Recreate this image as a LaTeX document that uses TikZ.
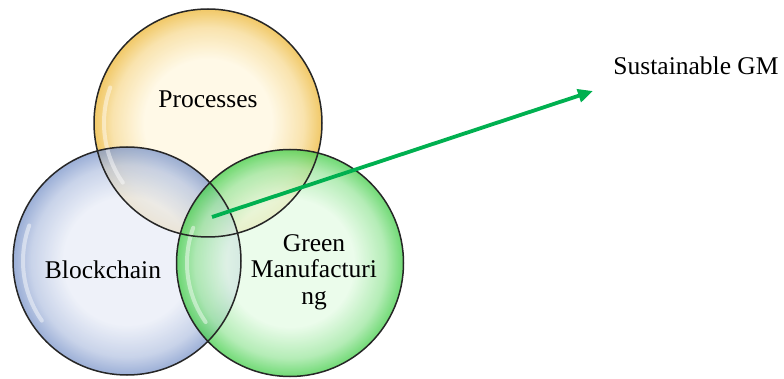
\documentclass[tikz,border=0pt]{standalone}
\usepackage{fontspec}
\setmainfont{Liberation Serif}
\usetikzlibrary{arrows.meta}
\definecolor{yin}{HTML}{FFF7E0}
\definecolor{yout}{HTML}{EDB93C}
\definecolor{bin}{HTML}{E9EDF7}
\definecolor{bout}{HTML}{7F98CB}
\definecolor{gin}{HTML}{E6FBE6}
\definecolor{gout}{HTML}{48CF4E}
\definecolor{arrowgreen}{HTML}{00B050}
\pgfdeclareradialshading{ballY}{\pgfpoint{0bp}{0bp}}{color(0bp)=(yin); color(14bp)=(yin); color(21bp)=(yout!45!yin); color(25bp)=(yout); color(50bp)=(yout)}
\pgfdeclareradialshading{ballB}{\pgfpoint{0bp}{0bp}}{color(0bp)=(bin); color(14bp)=(bin); color(21bp)=(bout!45!bin); color(25bp)=(bout); color(50bp)=(bout)}
\pgfdeclareradialshading{ballG}{\pgfpoint{0bp}{0bp}}{color(0bp)=(gin); color(14bp)=(gin); color(21bp)=(gout!45!gin); color(25bp)=(gout); color(50bp)=(gout)}
\tikzset{
  venn/.style={fill opacity=0.78},
  rim/.style={line width=1.5pt, draw=black!85},
  gloss/.style={white, line width=4pt, opacity=0.45, line cap=round},
  lbl/.style={font=\fontsize{25.5}{27}\selectfont, anchor=base, align=center, inner sep=0pt},
  conn/.style={arrowgreen, line width=3.8pt, -{Triangle[length=15pt,width=13pt]}}
}
\begin{document}
\begin{tikzpicture}[x=1pt,y=-1pt]
\useasboundingbox (0,0) rectangle (784,379);
% circles
\coordinate (cp) at (208,123);
\coordinate (cb) at (127,261);
\coordinate (cg) at (290,263);
\path[venn, shading=ballY] (cp) circle[radius=114];
\path[venn, shading=ballB] (cb) circle[radius=114];
\path[venn, shading=ballG] (cg) circle[radius=113.5];
% gloss highlights
\draw[gloss] (cp) ++(145:104) arc[start angle=145, end angle=200, radius=104];
\draw[gloss] (cb) ++(145:104) arc[start angle=145, end angle=200, radius=104];
\draw[gloss] (cg) ++(145:103) arc[start angle=145, end angle=200, radius=103];
% outlines
\draw[rim] (cp) circle[radius=114];
\draw[rim] (cb) circle[radius=114];
\draw[rim] (cg) circle[radius=113.5];
% labels
\node[lbl] (proc) at (208,108) {Processes};
\node[lbl] (block) at (103,279) {Blockchain};
\node[lbl] (green) at (314,305) {Green\\Manufacturi\\ng};
\node[lbl] (sgm) at (696,75) {Sustainable GM};
% arrow
\coordinate (start) at (212,217);
\coordinate (tip) at (593,91);
\draw[conn] (start) -- (tip);
\end{tikzpicture}
\end{document}
